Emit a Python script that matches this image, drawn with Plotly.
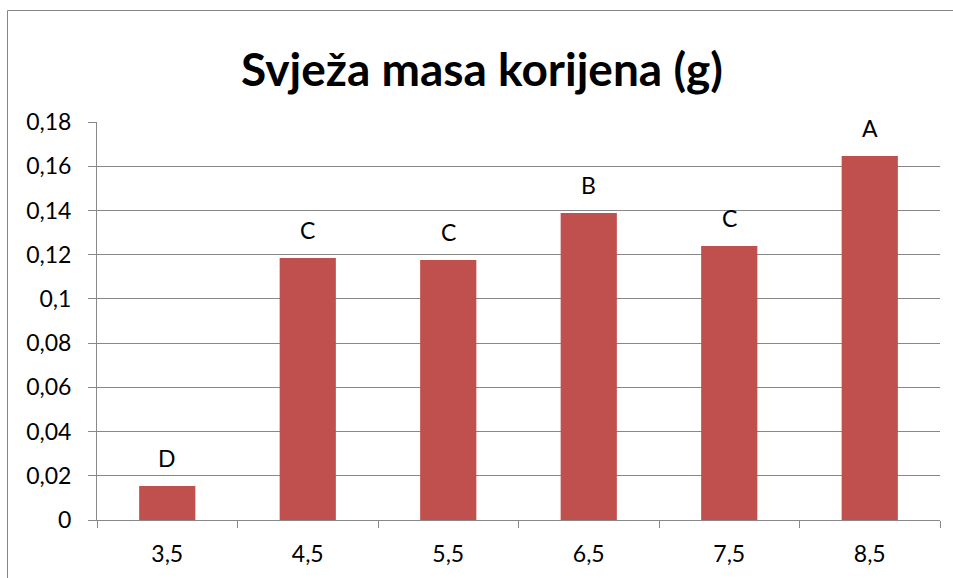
import plotly.graph_objects as go

categories = ["3,5", "4,5", "5,5", "6,5", "7,5", "8,5"]
values = [0.0154, 0.1185, 0.1176, 0.1388, 0.1239, 0.1646]
letters = ["D", "C", "C", "B", "C", "A"]
y_tickvals = [0, 0.02, 0.04, 0.06, 0.08, 0.1, 0.12, 0.14, 0.16, 0.18]
y_ticktext = ["0", "0,02", "0,04", "0,06", "0,08", "0,1", "0,12", "0,14", "0,16", "0,18"]
title_text = "Svježa masa korijena (g)"

FONT = "Lato, 'Open Sans', sans-serif"
GRID = "#888888"

W, H = 953, 578
ML, MR, MT, MB = 97, 13, 122, 58
PW, PH = W - ML - MR, H - MT - MB

fig = go.Figure()
fig.add_trace(go.Bar(
    x=categories, y=values,
    marker=dict(color="#C0504D", line=dict(width=0)),
    hoverinfo="x+y",
))

for c, v, t in zip(categories, values, letters):
    fig.add_annotation(x=c, y=v, text=t, showarrow=False, yanchor="bottom",
                       yshift=12, font=dict(family=FONT, size=23, color="black"))

# outer chart border: only left and top edges are visible in the window
bx0 = (7.5 - ML) / PW
bx1 = (W + 40 - ML) / PW
by0 = -(MB + 40) / PH
by1 = (PH + MT - 10.5) / PH
fig.add_shape(type="path", xref="paper", yref="paper",
              path=f"M {bx0},{by0} L {bx0},{by1} L {bx1},{by1}",
              line=dict(color="#868686", width=1), layer="below")

fig.update_layout(
    width=W, height=H,
    margin=dict(l=ML, r=MR, t=MT, b=MB),
    paper_bgcolor="white", plot_bgcolor="white",
    bargap=0.6,
    showlegend=False,
    title=dict(text="<b>" + title_text + "</b>", x=(482 - ML) / PW, xref="paper",
               xanchor="center",
               y=1 - 70 / H, yanchor="middle",
               font=dict(family=FONT, size=46, color="black")),
    font=dict(family=FONT, size=23, color="black"),
    xaxis=dict(type="category", showgrid=False, showline=True, linecolor=GRID,
               linewidth=1, ticks="outside", tickson="boundaries", ticklen=7,
               tickcolor=GRID, ticklabelstandoff=13,
               tickfont=dict(family=FONT, size=23, color="black")),
    yaxis=dict(range=[0, 0.18], tickvals=y_tickvals, ticktext=y_ticktext,
               showgrid=True, gridcolor=GRID, gridwidth=1,
               showline=True, linecolor=GRID, linewidth=1,
               ticks="outside", ticklen=8, tickcolor=GRID,
               ticklabelstandoff=12, zeroline=False,
               tickfont=dict(family=FONT, size=23, color="black")),
)

fig.write_html("out.html",
               config={"displayModeBar": False},
               post_script="document.body.style.margin='0';document.body.style.overflow='hidden';")
